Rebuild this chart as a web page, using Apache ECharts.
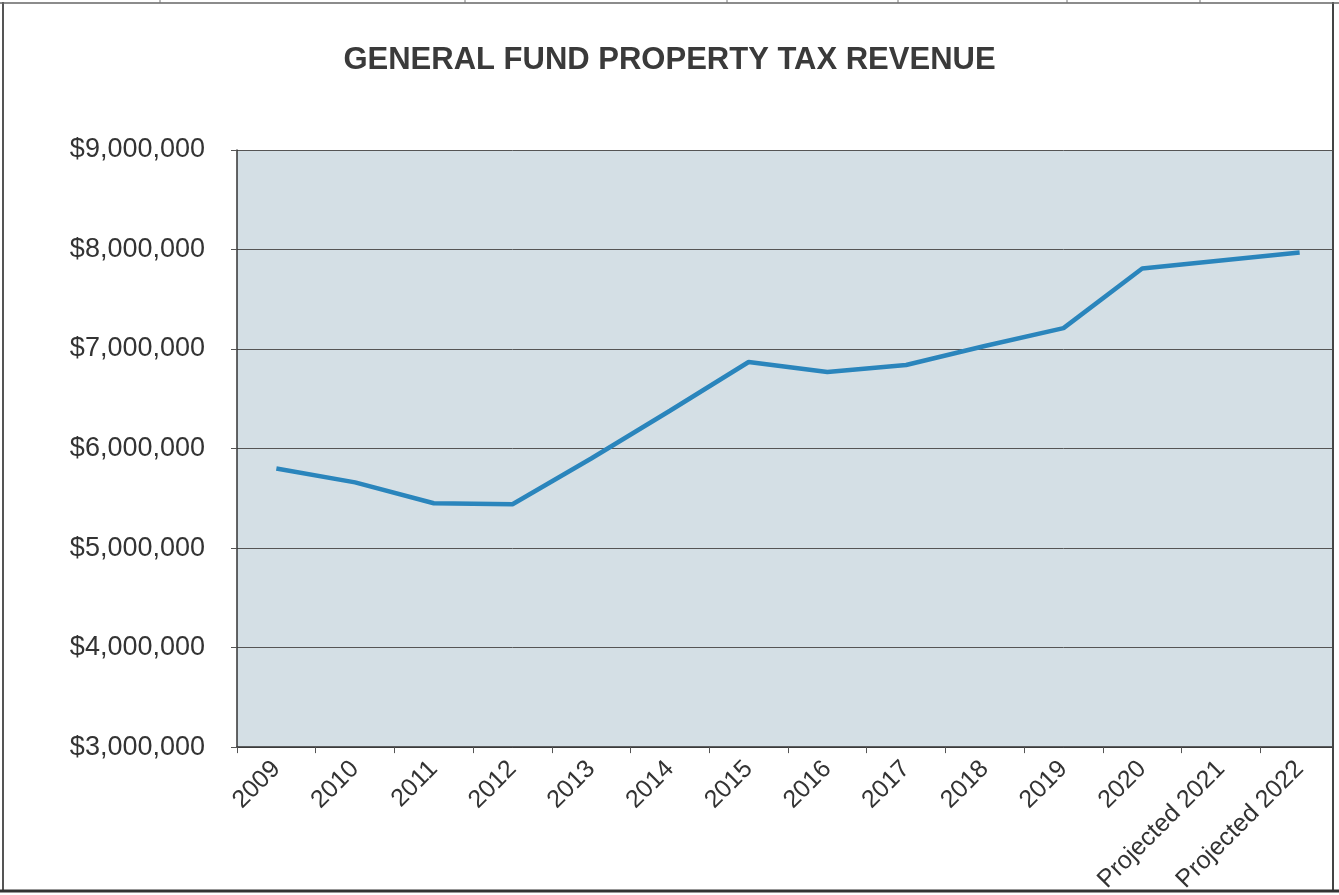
<!DOCTYPE html>
<html>
<head>
<meta charset="utf-8">
<script src="https://cdn.jsdelivr.net/npm/echarts@6/dist/echarts.min.js"></script>
<style>
  html, body { margin: 0; padding: 0; background: #ffffff; }
  #chart { width: 1339px; height: 895px; }
</style>
</head>
<body>
<div id="chart"></div>
<script>
const titleText = 'GENERAL FUND PROPERTY TAX REVENUE';
const categories = ['2009', '2010', '2011', '2012', '2013', '2014', '2015', '2016', '2017', '2018', '2019', '2020', 'Projected 2021', 'Projected 2022'];
const revenue = [5800000, 5660000, 5450000, 5440000, 5900000, 6380000, 6870000, 6770000, 6840000, 7030000, 7210000, 7810000, 7890000, 7970000];
const yMin = 3000000;
const yMax = 9000000;
const yStep = 1000000;

const FONT = '"Liberation Sans", Arial, sans-serif';

function money(v) {
  return '$' + String(Math.round(v)).replace(/\B(?=(\d{3})+(?!\d))/g, ',');
}

const chart = echarts.init(document.getElementById('chart'), null, { renderer: 'canvas' });

chart.setOption({
  backgroundColor: '#ffffff',
  animation: false,
  title: {
    text: titleText,
    left: 'center',
    top: 40,
    textStyle: { fontFamily: FONT, fontSize: 31, fontWeight: 'bold', color: '#3a3a3a' }
  },
  grid: {
    left: 237,
    top: 150,
    width: 1110,
    bottom: 146,
    show: true,
    backgroundColor: '#d4dfe5',
    borderWidth: 0
  },
  xAxis: {
    type: 'category',
    data: categories,
    boundaryGap: true,
    axisLine: { show: true, lineStyle: { color: '#333333', width: 1.5 } },
    axisTick: { show: true, length: 6, lineStyle: { color: '#555555' } },
    axisLabel: {
      interval: 0,
      rotate: 45,
      margin: 18,
      fontFamily: FONT,
      fontSize: 25,
      color: '#333333'
    },
    splitLine: { show: false }
  },
  yAxis: {
    type: 'value',
    min: yMin,
    max: yMax,
    interval: yStep,
    axisLine: { show: true, lineStyle: { color: '#333333', width: 1.5 } },
    axisTick: { show: true, length: 6, lineStyle: { color: '#555555' } },
    axisLabel: {
      margin: 32,
      fontFamily: FONT,
      fontSize: 27,
      color: '#333333',
      formatter: money
    },
    splitLine: { show: true, lineStyle: { color: '#555555', width: 1 } }
  },
  series: [{
    type: 'line',
    data: revenue,
    showSymbol: false,
    symbol: 'none',
    lineStyle: { color: '#2a85bc', width: 4.5 },
    z: 5
  }],
  graphic: [
    { type: 'rect', z: 100, shape: { x: 1334, y: 100, width: 10, height: 700 }, style: { fill: '#ffffff' } },
    { type: 'line', z: 101, shape: { x1: 1333, y1: 2, x2: 1333, y2: 891 }, style: { stroke: '#444444', lineWidth: 2 } },
    { type: 'line', z: 101, shape: { x1: 3, y1: 2, x2: 3, y2: 891 }, style: { stroke: '#555555', lineWidth: 2 } },
    { type: 'line', z: 101, shape: { x1: 0, y1: 3, x2: 1339, y2: 3 }, style: { stroke: '#666666', lineWidth: 1.5 } },
    { type: 'line', z: 101, shape: { x1: 0, y1: 891, x2: 1339, y2: 891 }, style: { stroke: '#333333', lineWidth: 3 } },
    { type: 'line', z: 101, shape: { x1: 160, y1: 0, x2: 160, y2: 3 }, style: { stroke: '#777777', lineWidth: 1 } },
    { type: 'line', z: 101, shape: { x1: 465, y1: 0, x2: 465, y2: 3 }, style: { stroke: '#777777', lineWidth: 1 } },
    { type: 'line', z: 101, shape: { x1: 727, y1: 0, x2: 727, y2: 3 }, style: { stroke: '#777777', lineWidth: 1 } },
    { type: 'line', z: 101, shape: { x1: 898, y1: 0, x2: 898, y2: 3 }, style: { stroke: '#777777', lineWidth: 1 } },
    { type: 'line', z: 101, shape: { x1: 1067, y1: 0, x2: 1067, y2: 3 }, style: { stroke: '#777777', lineWidth: 1 } },
    { type: 'line', z: 101, shape: { x1: 1200, y1: 0, x2: 1200, y2: 3 }, style: { stroke: '#777777', lineWidth: 1 } }
  ]
});
</script>
</body>
</html>
